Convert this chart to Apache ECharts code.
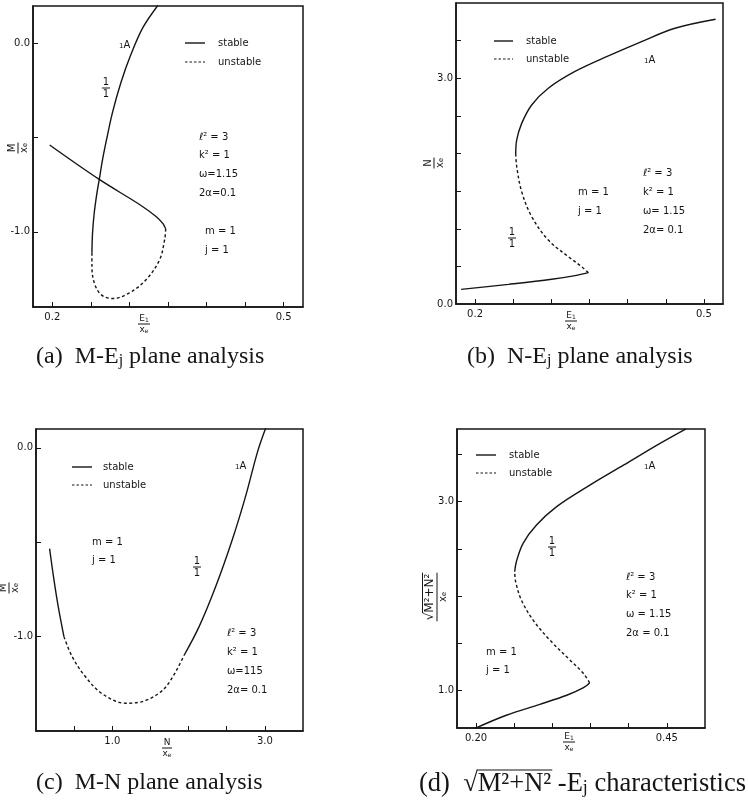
<!DOCTYPE html>
<html><head><meta charset="utf-8">
<script src="https://cdn.jsdelivr.net/npm/echarts@6/dist/echarts.min.js"></script>
<style>html,body{margin:0;padding:0;background:#fff}#c{width:748px;height:801px}</style>
</head><body><div id="c"></div>
<script>
// ---------------- DATA ----------------
// (a) M/xe versus E1/xe
const aStableLower = [[0.1966,-0.539],[0.2609,-0.722],[0.3131,-0.855],[0.3349,-0.920],[0.3435,-0.957],[0.347,-0.984]];
const aUnstable    = [[0.347,-0.984],[0.3457,-1.041],[0.3392,-1.148],[0.3218,-1.254],[0.300,-1.325],[0.2783,-1.355],[0.2631,-1.334],[0.2544,-1.271],[0.2514,-1.183],[0.2514,-1.112]];
const aStableUpper = [[0.2514,-1.112],[0.2522,-1.005],[0.2544,-0.899],[0.2579,-0.793],[0.2609,-0.722],[0.2652,-0.615],[0.2704,-0.509],[0.278,-0.367],[0.289,-0.207],[0.302,-0.057],[0.3174,0.085],[0.337,0.204]];
// (b) N/xe versus E1/xe
const bStableLower = [[0.1817,0.195],[0.2437,0.261],[0.3004,0.328],[0.331,0.377],[0.3485,0.4165]];
const bUnstable    = [[0.3485,0.4165],[0.3397,0.496],[0.3223,0.629],[0.296,0.85],[0.2742,1.161],[0.2611,1.493],[0.2546,1.825],[0.2533,1.994]];
const bStableUpper = [[0.2533,1.994],[0.2546,2.18],[0.2611,2.40],[0.2742,2.645],[0.296,2.867],[0.331,3.09],[0.3747,3.296],[0.4183,3.487],[0.462,3.664],[0.5153,3.784]];
// (c) M/xe versus N/xe
const cStableLeft  = [[0.178,-0.534],[0.235,-0.698],[0.291,-0.840],[0.366,-1.0]];
const cUnstable    = [[0.366,-1.0],[0.475,-1.107],[0.651,-1.214],[0.869,-1.303],[1.176,-1.353],[1.438,-1.338],[1.701,-1.267],[1.94,-1.10]];
const cStableRight = [[1.94,-1.10],[2.138,-0.947],[2.357,-0.733],[2.575,-0.484],[2.75,-0.253],[2.904,-0.021],[3.013,0.107]];
// (d) sqrt(M^2+N^2)/xe versus E1/xe
const dStableLower = [[0.1978,0.593],[0.2396,0.735],[0.2836,0.851],[0.3188,0.947],[0.3408,1.028],[0.3488,1.078]];
const dUnstable    = [[0.3488,1.078],[0.3408,1.177],[0.3232,1.319],[0.2968,1.531],[0.2748,1.743],[0.2594,1.956],[0.2519,2.150],[0.2506,2.257]];
const dStableUpper = [[0.2506,2.257],[0.2528,2.363],[0.2616,2.558],[0.2792,2.752],[0.3056,2.947],[0.3496,3.177],[0.3937,3.389],[0.4377,3.602],[0.4751,3.772]];

// ticks and tick labels
const aXTicks = [0.2,0.25,0.3,0.35,0.4,0.45,0.5];
const aXLabels = [0.2,0.5];
const aYTicks = [0,-0.5,-1.0];
const aYLabels = [0,-1.0];
const bXTicks = [0.2,0.25,0.3,0.35,0.4,0.45,0.5];
const bXLabels = [0.2,0.5];
const bYTicks = [0.5,1.0,1.5,2.0,2.5,3.0,3.5];
const bYLabels = [0,3.0];
const cXTicks = [0.5,1.0,1.5,2.0,2.5,3.0];
const cXLabels = [1.0,3.0];
const cYTicks = [0,-0.5,-1.0];
const cYLabels = [0,-1.0];
const dXTicks = [0.2,0.25,0.3,0.35,0.4,0.45];
const dXLabels = [0.2,0.45];
const dYTicks = [1.0,1.5,2.0,2.5,3.0,3.5];
const dYLabels = [1.0,3.0];

// texts
const legendNames = ['stable','unstable'];
const paramsA = ['ℓ² = 3','k² = 1','ω=1.15','2α=0.1'];
const paramsB = ['ℓ² = 3','k² = 1','ω= 1.15','2α= 0.1'];
const paramsC = ['ℓ² = 3','k² = 1','ω=115','2α= 0.1'];
const paramsD = ['ℓ² = 3','k² = 1','ω = 1.15','2α = 0.1'];
const mjText = ['m = 1','j = 1'];
const pointLabel = '{s|1}A';
const ratioNum = '1', ratioDen = '1';
const captionA = '(a)  M-E{s|j} plane analysis';
const captionB = '(b)  N-E{s|j} plane analysis';
const captionC = '(c)  M-N plane analysis';
const captionDPre = '(d)  √', captionDRad = 'M²+N²', captionDPost = ' -E{s|j} characteristics';

// ---------------- CHART ----------------
const INK = '#151515';
const SANS = 'DejaVu Sans';
const SERIF = 'Liberation Serif';
const chart = echarts.init(document.getElementById('c'), null, {renderer:'canvas'});

const mctx = document.createElement('canvas').getContext('2d');
function tw(t, fs, fam){ mctx.font = fs + 'px "' + fam + '"'; return mctx.measureText(t).width; }

function xAx(gi, min, max, ticks, labels, dec){
  return {type:'value', gridIndex:gi, min, max, position:'bottom',
    axisLine:{show:true, onZero:false, lineStyle:{color:INK, width:1.5}},
    axisTick:{show:true, inside:true, length:5, customValues:ticks, lineStyle:{color:INK, width:1}},
    axisLabel:{show:true, customValues:labels, formatter:v=>Number(v).toFixed(dec), color:INK, fontFamily:SANS, fontSize:10, margin:5},
    splitLine:{show:false}, minorTick:{show:false}};
}
function yAx(gi, min, max, ticks, labels, dec){
  return {type:'value', gridIndex:gi, min, max, position:'left',
    axisLine:{show:true, onZero:false, lineStyle:{color:INK, width:1.5}},
    axisTick:{show:true, inside:true, length:5, customValues:ticks, lineStyle:{color:INK, width:1}},
    axisLabel:{show:true, customValues:labels, formatter:v=>Number(v).toFixed(dec), color:INK, fontFamily:SANS, fontSize:10, margin:3},
    splitLine:{show:false}, minorTick:{show:false}};
}
function seg(name, data, gi, dashed){
  return {type:'line', name, xAxisIndex:gi, yAxisIndex:gi, data, symbol:'none', smooth:0.35,
    silent:true, clip:true,
    lineStyle:{color:INK, width:1.4, type: dashed ? [3,2.5] : 'solid'}};
}
function rich(fs, fam){
  return {s:{fontSize:Math.round(fs*0.68), fontFamily:fam||SANS, fill:INK, verticalAlign:'bottom'}};
}
function T(x, y, text, o){
  o = o || {};
  const fs = o.fs || 10, fam = o.fam || SANS;
  return {type:'text', x, y, silent:true, z:10,
    style:{text, fill:INK, fontSize:fs, fontFamily:fam, align:o.align||'left', verticalAlign:o.va||'middle', rich:rich(fs,fam)}};
}
function frac(cx, cy, num, den, barW, fs, rot){
  return {type:'group', x:cx, y:cy, rotation:rot||0, silent:true, z:10, children:[
    {type:'text', x:0, y:-1, style:{text:num, fill:INK, fontSize:fs, fontFamily:SANS, align:'center', verticalAlign:'bottom', rich:rich(fs)}},
    {type:'line', shape:{x1:-barW/2, y1:0, x2:barW/2, y2:0}, style:{stroke:INK, lineWidth:1}},
    {type:'text', x:0, y:1, style:{text:den, fill:INK, fontSize:fs, fontFamily:SANS, align:'center', verticalAlign:'top', rich:rich(fs)}}
  ]};
}
function legendG(x1, x2, xt, y1, y2){
  return [
    {type:'line', silent:true, shape:{x1, y1, x2, y2:y1}, style:{stroke:INK, lineWidth:1.4}},
    T(xt, y1, legendNames[0]),
    {type:'line', silent:true, shape:{x1, y1:y2, x2, y2}, style:{stroke:INK, lineWidth:1.2, lineDash:[2.5,2]}},
    T(xt, y2, legendNames[1])
  ];
}
function stack(x, y0, dy, arr){ return arr.map((t,i)=>T(x, y0 + i*dy, t)); }

// (d) y-axis name: sqrt(M^2+N^2) over x_e, rotated
function sqrtFrac(cx, cy, fs){
  const w = tw(captionDRad, fs, SANS), ws = tw('√', fs, SANS);
  const left = -(w + ws)/2;
  return {type:'group', x:cx, y:cy, rotation:Math.PI/2, silent:true, z:10, children:[
    {type:'text', x:left, y:-1, style:{text:'√', fill:INK, fontSize:fs, fontFamily:SANS, align:'left', verticalAlign:'bottom'}},
    {type:'text', x:left+ws, y:-1, style:{text:captionDRad, fill:INK, fontSize:fs, fontFamily:SANS, align:'left', verticalAlign:'bottom'}},
    {type:'line', shape:{x1:left+ws-0.5, y1:-fs-2.5, x2:left+ws+w+1, y2:-fs-2.5}, style:{stroke:INK, lineWidth:1}},
    {type:'line', shape:{x1:left-1, y1:0, x2:left+ws+w+1, y2:0}, style:{stroke:INK, lineWidth:1}},
    {type:'text', x:0, y:1, style:{text:'x{s|e}', fill:INK, fontSize:fs-2, fontFamily:SANS, align:'center', verticalAlign:'top', rich:rich(fs-2)}}
  ]};
}

const capFs = 24, capFsD = 26.5;
const capDx = 419, capDy = 784;
const preW = tw(captionDPre, capFsD, SERIF), radW = tw(captionDRad, capFsD, SERIF);

const graphics = [].concat(
  // panel (a)
  legendG(185, 205, 218, 43, 62),
  [T(119, 45, pointLabel), frac(106, 88, ratioNum, ratioDen, 8, 10)],
  stack(199, 137, 18.7, paramsA),
  stack(205, 231, 19, mjText),
  [frac(144, 324, 'E{s|1}', 'x{s|e}', 12, 9), frac(18, 148, 'M', 'x{s|e}', 11, 10, Math.PI/2)],
  [T(36, 357, captionA, {fs:capFs, fam:SERIF})],
  // panel (b)
  legendG(494, 513, 526, 41, 59),
  [T(644, 60, pointLabel), frac(512, 238, ratioNum, ratioDen, 8, 10)],
  stack(578, 192, 19, mjText),
  stack(643, 173, 19, paramsB),
  [frac(571, 321, 'E{s|1}', 'x{s|e}', 12, 9), frac(434, 163, 'N', 'x{s|e}', 11, 10, Math.PI/2)],
  [T(467, 357, captionB, {fs:capFs, fam:SERIF})],
  // panel (c)
  legendG(72, 92, 103, 467, 485),
  [T(235, 466, pointLabel), frac(197, 567, ratioNum, ratioDen, 8, 10)],
  stack(92, 542, 18.5, mjText),
  stack(227, 633, 19.1, paramsC),
  [frac(167, 748, 'N', 'x{s|e}', 10, 9), frac(9, 588, 'M', 'x{s|e}', 11, 10, Math.PI/2)],
  [T(36, 783, captionC, {fs:capFs, fam:SERIF})],
  // panel (d)
  legendG(476, 496, 509, 455, 473),
  [T(644, 466, pointLabel), frac(552, 547, ratioNum, ratioDen, 8, 10)],
  stack(626, 577, 18.7, paramsD),
  stack(486, 652, 18.5, mjText),
  [frac(569, 742, 'E{s|1}', 'x{s|e}', 12, 9), sqrtFrac(437, 597, 12)],
  [T(capDx, capDy, captionDPre + captionDRad + captionDPost, {fs:capFsD, fam:SERIF}),
   {type:'line', silent:true, z:10, shape:{x1:capDx+preW-1, y1:capDy-14, x2:capDx+preW+radW+1, y2:capDy-14}, style:{stroke:INK, lineWidth:1.2}}]
);

const gridBase = {show:true, borderColor:INK, borderWidth:1.5, backgroundColor:'transparent', containLabel:false};
chart.setOption({
  animation:false,
  backgroundColor:'#ffffff',
  grid:[
    Object.assign({left:33, top:6, width:270, height:301}, gridBase),
    Object.assign({left:456, top:3, width:267, height:301}, gridBase),
    Object.assign({left:36, top:429, width:267, height:302}, gridBase),
    Object.assign({left:457, top:429, width:248, height:299}, gridBase)
  ],
  xAxis:[
    xAx(0, 0.175, 0.525, aXTicks, aXLabels, 1),
    xAx(1, 0.175, 0.525, bXTicks, bXLabels, 1),
    xAx(2, 0, 3.5, cXTicks, cXLabels, 1),
    xAx(3, 0.175, 0.5, dXTicks, dXLabels, 2)
  ],
  yAxis:[
    yAx(0, -1.4, 0.2, aYTicks, aYLabels, 1),
    yAx(1, 0, 4.0, bYTicks, bYLabels, 1),
    yAx(2, -1.5, 0.1, cYTicks, cYLabels, 1),
    yAx(3, 0.6, 3.77, dYTicks, dYLabels, 1)
  ],
  series:[
    seg(legendNames[0], aStableLower, 0, false), seg(legendNames[1], aUnstable, 0, true), seg(legendNames[0], aStableUpper, 0, false),
    seg(legendNames[0], bStableLower, 1, false), seg(legendNames[1], bUnstable, 1, true), seg(legendNames[0], bStableUpper, 1, false),
    seg(legendNames[0], cStableLeft, 2, false), seg(legendNames[1], cUnstable, 2, true), seg(legendNames[0], cStableRight, 2, false),
    seg(legendNames[0], dStableLower, 3, false), seg(legendNames[1], dUnstable, 3, true), seg(legendNames[0], dStableUpper, 3, false)
  ],
  graphic:{elements:graphics}
});
</script>
</body></html>
